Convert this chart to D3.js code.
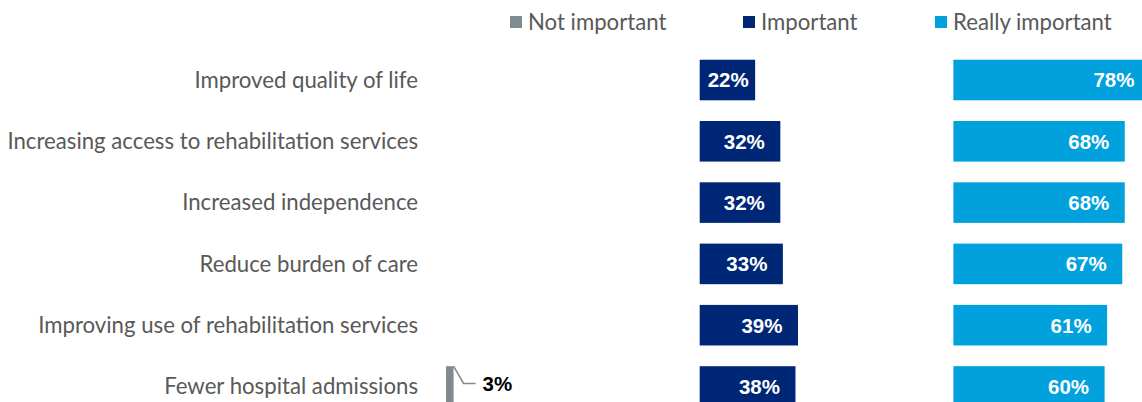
<!DOCTYPE html>
<html>
<head>
<meta charset="utf-8">
<script src="https://cdn.jsdelivr.net/npm/d3@7"></script>
<style>
  body { margin: 0; background: #fff; }
  svg { display: block; }
</style>
</head>
<body>
<div id="chart"></div>
<script>
const categories = [
  "Improved quality of life",
  "Increasing access to rehabilitation services",
  "Increased independence",
  "Reduce burden of care",
  "Improving use of rehabilitation services",
  "Fewer hospital admissions"
];
const seriesNames = ["Not important", "Important", "Really important"];
const notImportant = [0, 0, 0, 0, 0, 3];
const important = [22, 32, 32, 33, 39, 38];
const reallyImportant = [78, 68, 68, 67, 61, 60];
const colors = ["#7f8a91", "#002776", "#00a1dc"];

const width = 1142;
const height = 402;

const series = seriesNames.map((name, i) => ({
  name: name,
  color: colors[i],
  values: [notImportant, important, reallyImportant][i]
}));

const svg = d3.select("#chart").append("svg")
    .attr("width", width)
    .attr("height", height);

// one panel per series, side by side
const panel = d3.scaleBand()
    .domain(seriesNames)
    .range([446, 446 + 3 * 253.7]);

const x = d3.scaleLinear()
    .domain([0, 100])
    .range([0, 252]);

const y = d3.scaleBand()
    .domain(categories)
    .range([39, 427.5])
    .padding(0.338);

// category labels
svg.append("g")
  .selectAll("text")
  .data(categories)
  .enter().append("text")
    .attr("x", 418)
    .attr("y", d => y(d) + y.bandwidth() / 2)
    .attr("dy", "0.35em")
    .attr("text-anchor", "end")
    .attr("fill", "#595959")
    .style("font-family", "Lato, sans-serif")
    .style("font-size", "22.2px")
    .text(d => d);

// legend
const legendX = [510, 743, 935];

const legend = svg.append("g")
  .selectAll("g")
  .data(series)
  .enter().append("g")
    .attr("transform", (d, i) => `translate(${legendX[i]},0)`);

legend.append("rect")
    .attr("x", 0)
    .attr("y", 16)
    .attr("width", 12)
    .attr("height", 12)
    .attr("fill", d => d.color);

legend.append("text")
    .attr("x", 18)
    .attr("y", 22)
    .attr("dy", "0.35em")
    .attr("fill", "#595959")
    .style("font-family", "Lato, sans-serif")
    .style("font-size", "22.2px")
    .text(d => d.name);

// bars
const groups = svg.append("g")
  .selectAll("g")
  .data(series)
  .enter().append("g")
    .attr("transform", d => `translate(${panel(d.name)},0)`);

const cells = groups.selectAll("g")
  .data(d => d.values.map((v, i) => ({ value: v, category: categories[i], series: d })))
  .enter().append("g");

cells.filter(d => d.value > 0).append("rect")
    .attr("x", x(0))
    .attr("y", d => y(d.category))
    .attr("width", d => x(d.value))
    .attr("height", y.bandwidth())
    .attr("fill", d => d.series.color);

// labels inside the larger bars
cells.filter(d => d.value >= 10).append("text")
    .attr("x", d => Math.max(x(d.value) - 15.5, x(0) + 49))
    .attr("y", d => y(d.category) + y.bandwidth() / 2)
    .attr("dy", "0.36em")
    .attr("text-anchor", "end")
    .attr("fill", "#fff")
    .style("font-family", "'Liberation Sans', Arial, sans-serif")
    .style("font-weight", "bold")
    .style("font-size", "20.5px")
    .text(d => d.value + "%");

// small bars get a leader line and an outside label
const small = cells.filter(d => d.value > 0 && d.value < 10);

small.append("polyline")
    .attr("points", d => {
      const top = y(d.category);
      const mid = top + y.bandwidth() / 2;
      return [[x(d.value), top], [x(d.value) + 10, mid - 3], [x(d.value) + 22, mid - 3]].join(" ");
    })
    .attr("fill", "none")
    .attr("stroke", "#7f8a91")
    .attr("stroke-width", 1.5);

small.append("text")
    .attr("x", d => x(d.value) + 29)
    .attr("y", d => y(d.category) + y.bandwidth() / 2 - 3)
    .attr("dy", "0.36em")
    .attr("fill", "#000")
    .style("font-family", "'Liberation Sans', Arial, sans-serif")
    .style("font-weight", "bold")
    .style("font-size", "20.5px")
    .text(d => d.value + "%");
</script>
</body>
</html>
